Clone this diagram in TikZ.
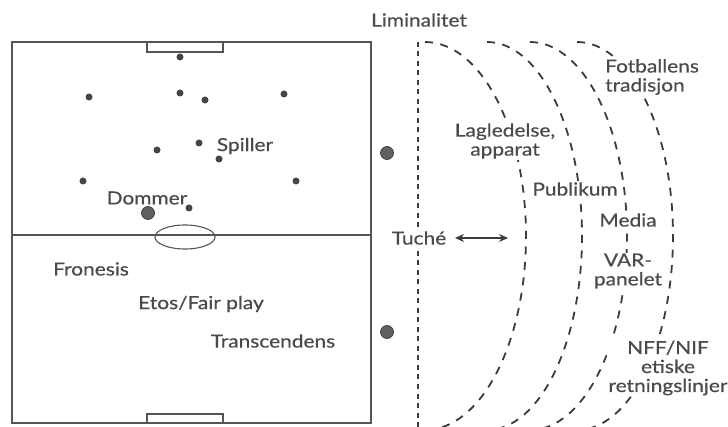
\documentclass[tikz,border=0pt]{standalone}
\usepackage{fontspec}
\setmainfont{Lato}[FakeStretch=1.16, FakeBold=0.5]
\usetikzlibrary{arrows.meta}
\definecolor{ink}{HTML}{3C3C3C}
\definecolor{txt}{HTML}{4A4A4A}
\definecolor{pitchline}{HTML}{555555}
\definecolor{dotc}{HTML}{454545}
\begin{document}
\begin{tikzpicture}[x=1pt,y=-1pt,
  lbl/.style={font=\fontsize{18}{19}\selectfont, text=txt, inner sep=1pt},
  mask/.style={lbl, fill=white},
  dot/.style={circle, fill=dotc, inner sep=0pt, minimum size=7pt},
  bigdot/.style={circle, fill=dotc!85, draw=dotc, line width=0.8pt, inner sep=0pt, minimum size=13pt},
  pitch/.style={draw=pitchline, line width=1.1pt},
  arcline/.style={draw=ink, line width=1.8pt, dash pattern=on 8pt off 7.5pt},
  tucheline/.style={draw=ink, line width=2pt, dash pattern=on 5pt off 4.5pt},
  twoway/.style={{Stealth[length=9pt,width=8pt]}-{Stealth[length=9pt,width=8pt]}, line width=1.2pt, draw=ink}]
\useasboundingbox (0,0) rectangle (728,427);
\fill[white] (0,0) rectangle (728,427);
% pitch
\draw[pitch] (12,42) rectangle (371,423);
\draw[pitch] (12,235) -- (371,235);
\draw[pitch] (147,42) rectangle (223,52);
\draw[pitch] (147,414) rectangle (223,423);
\draw[pitch] (185,237) ellipse[x radius=30, y radius=12];
% players
\node[dot] (p1) at (180,57) {};
\node[dot] (p2) at (89,97) {};
\node[dot] (p3) at (180,93) {};
\node[dot] (p4) at (205,100) {};
\node[dot] (p5) at (284,94) {};
\node[dot] (p6) at (157,150) {};
\node[dot] (p7) at (199,143) {};
\node[dot] (p8) at (219,159) {};
\node[dot] (p9) at (83,181) {};
\node[dot] (p10) at (296,181) {};
\node[dot] (p11) at (189,208) {};
\node[bigdot] (ref) at (148,213) {};
\node[bigdot] (o1) at (387,153) {};
\node[bigdot] (o2) at (387,332) {};
% liminal lines
\coordinate (ltop) at (418,42);
\coordinate (lbot) at (418,432);
\draw[tucheline] (ltop) -- (lbot);
\draw[arcline] (425,42) arc[start angle=-90, end angle=90, x radius=101, y radius=194];
\draw[arcline] (487,42) arc[start angle=-90, end angle=90, x radius=95, y radius=194];
\draw[arcline] (530,42) arc[start angle=-90, end angle=90, x radius=97, y radius=194];
\draw[arcline] (577,42) arc[start angle=-90, end angle=90, x radius=96, y radius=194];
% labels on the right
\node[lbl] (lim) at (419,20) {Liminalitet};
\node[mask, align=left, anchor=west] (fot) at (604,77) {Fotballens\\tradisjon};
\node[mask, align=center] (lag) at (505,141) {Lagledelse,\\apparat};
\node[mask] (pub) at (575,189) {Publikum};
\node[mask] (med) at (628,220) {Media};
\node[mask, align=center] (var) at (628,271) {VAR-\\panelet};
\node[mask, align=center] (nff) at (668,368) {NFF/NIF\\etiske\\retningslinjer};
\node[mask] (tuche) at (419,238) {Tuché};
\coordinate (aL) at (455,238);
\coordinate (aR) at (508,238);
\draw[twoway] (aL) -- (aR);
% labels on the pitch
\node[lbl] (spiller) at (245,146) {Spiller};
\node[lbl] (dommer) at (147,198) {Dommer};
\node[lbl] (fron) at (91,269) {Fronesis};
\node[lbl] (etos) at (201,304) {Etos/Fair play};
\node[lbl] (trans) at (273,341) {Transcendens};
\end{tikzpicture}
\end{document}
